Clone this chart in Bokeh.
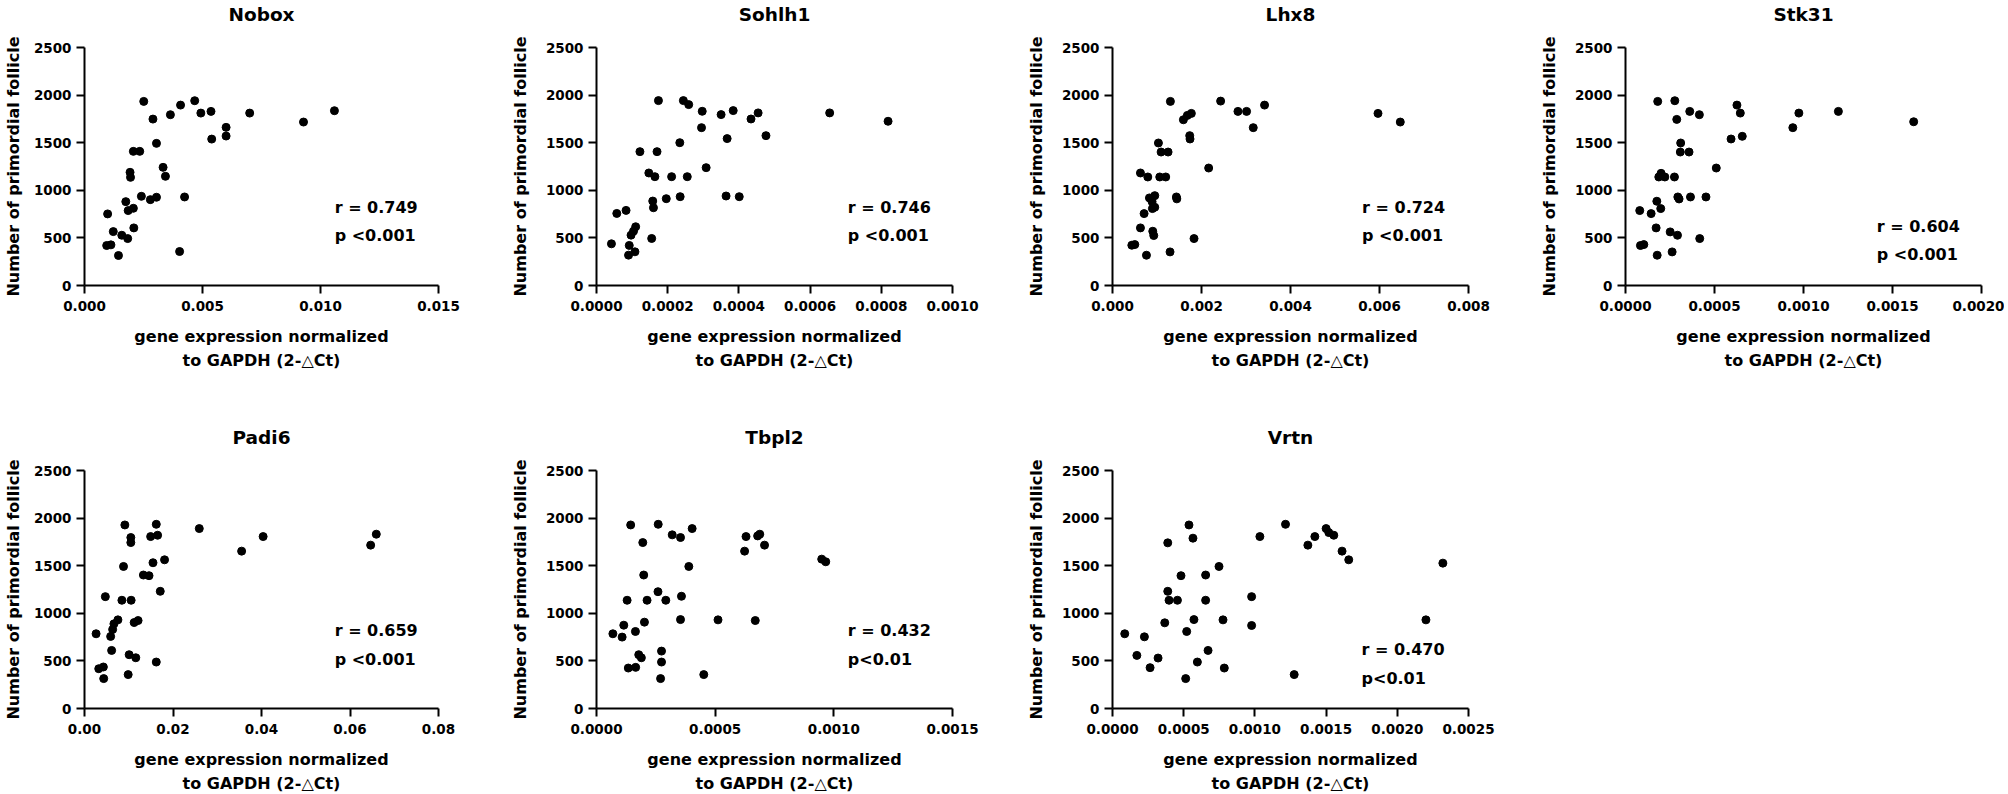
from bokeh.plotting import figure
from bokeh.layouts import column, row
from bokeh.models import Range1d, FixedTicker, Label
from bokeh.embed import file_html
from bokeh.resources import INLINE

# ---------------- data ----------------
genes = ["Nobox", "Sohlh1", "Lhx8", "Stk31", "Padi6", "Tbpl2", "Vrtn"]

nobox_x = [0.00251, 0.00467, 0.00407, 0.00290, 0.00364, 0.00493, 0.00536, 0.00700, 0.00928, 0.01059,
           0.00600, 0.00600, 0.00539, 0.00305, 0.00207, 0.00234, 0.00333, 0.00343, 0.00193, 0.00195,
           0.00241, 0.00279, 0.00305, 0.00424, 0.00175, 0.00185, 0.00207, 0.00098, 0.00209, 0.00122,
           0.00158, 0.00183, 0.00094, 0.00112, 0.00144, 0.00403]
nobox_y = [1934, 1941, 1895, 1748, 1794, 1811, 1829, 1811, 1717, 1836,
           1661, 1570, 1538, 1493, 1409, 1409, 1241, 1147, 1189, 1136,
           937, 902, 927, 930, 881, 787, 811, 752, 605, 566,
           528, 493, 420, 427, 315, 357]

sohlh1_x = [0.000174, 0.000244, 0.000259, 0.000297, 0.000350, 0.000384, 0.000434, 0.000454, 0.000655, 0.000819,
            0.000295, 0.000367, 0.000476, 0.000234, 0.000122, 0.000170, 0.000308, 0.000147, 0.000164, 0.000211,
            0.000255, 0.000196, 0.000235, 0.000364, 0.000401, 0.000158, 0.000160, 0.000057, 0.000083, 0.000110,
            0.000104, 0.000097, 0.000155, 0.000042, 0.000092, 0.000090, 0.000108]
sohlh1_y = [1942, 1942, 1900, 1830, 1795, 1837, 1749, 1813, 1813, 1725,
            1658, 1543, 1574, 1500, 1406, 1406, 1238, 1182, 1143, 1143,
            1143, 912, 933, 940, 933, 887, 817, 757, 789, 617,
            571, 529, 494, 438, 421, 319, 354]

lhx8_x = [0.001301, 0.00243, 0.002819, 0.003013, 0.003417, 0.005966, 0.006467, 0.003163, 0.001593, 0.001682,
          0.001772, 0.001735, 0.001742, 0.001032, 0.001092, 0.001249, 0.002161, 0.000628, 0.000793, 0.001062,
          0.001196, 0.00083, 0.00095, 0.00089, 0.001436, 0.001445, 0.000897, 0.00095, 0.00071, 0.000628,
          0.000905, 0.000927, 0.001832, 0.000434, 0.000501, 0.000763, 0.001293]
lhx8_y = [1934, 1937, 1829, 1829, 1895, 1808, 1717, 1658, 1741, 1787,
          1808, 1574, 1539, 1497, 1402, 1402, 1234, 1182, 1140, 1140,
          1140, 920, 944, 880, 930, 910, 808, 822, 755, 605,
          570, 525, 493, 423, 430, 318, 353]

stk31_x = [0.000181, 0.000277, 0.000361, 0.000415, 0.000288, 0.000626, 0.000645, 0.000974, 0.001196, 0.001619,
           0.000940, 0.000593, 0.000656, 0.000310, 0.000308, 0.000357, 0.000510, 0.000200, 0.000187, 0.000221,
           0.000275, 0.000294, 0.000301, 0.000365, 0.000452, 0.000176, 0.000198, 0.000080, 0.000144, 0.000172,
           0.000251, 0.000292, 0.000417, 0.000084, 0.000103, 0.000178, 0.000262]
stk31_y = [1934, 1941, 1829, 1794, 1745, 1895, 1811, 1811, 1829, 1720,
           1658, 1539, 1567, 1497, 1402, 1402, 1234, 1178, 1140, 1140,
           1140, 930, 909, 930, 930, 885, 808, 787, 755, 605,
           563, 528, 493, 420, 430, 318, 353]

padi6_x = [0.00912, 0.01622, 0.02594, 0.01495, 0.01652, 0.01047, 0.01047, 0.04037, 0.03551, 0.06467,
           0.06594, 0.01548, 0.01809, 0.00882, 0.01331, 0.01458, 0.01712, 0.00471, 0.00845, 0.01054,
           0.00755, 0.00665, 0.00636, 0.00591, 0.01122, 0.01211, 0.00262, 0.00613, 0.01009, 0.01159,
           0.01622, 0.00322, 0.00426, 0.00434, 0.00987]
padi6_y = [1928, 1935, 1890, 1806, 1820, 1796, 1743, 1806, 1653, 1716,
           1831, 1531, 1562, 1492, 1402, 1395, 1231, 1175, 1137, 1137,
           931, 889, 830, 757, 903, 924, 785, 610, 565, 533,
           488, 418, 436, 314, 356]

tbpl2_x = [0.000144, 0.000260, 0.000403, 0.000319, 0.000354, 0.000195, 0.000630, 0.000679, 0.000688, 0.000708,
           0.000624, 0.000949, 0.000966, 0.000389, 0.000199, 0.000259, 0.000358, 0.000129, 0.000213, 0.000292,
           0.000354, 0.000512, 0.000669, 0.000202, 0.000115, 0.000069, 0.000108, 0.000164, 0.000178, 0.000189,
           0.000274, 0.000274, 0.000134, 0.000165, 0.000270, 0.000452]
tbpl2_y = [1928, 1935, 1890, 1824, 1796, 1743, 1806, 1813, 1831, 1716,
           1653, 1569, 1541, 1492, 1402, 1227, 1179, 1137, 1137, 1137,
           934, 931, 924, 907, 875, 785, 750, 809, 565, 533,
           603, 488, 425, 432, 314, 356]

vrtn_x = [0.000537, 0.001215, 0.000565, 0.000388, 0.001035, 0.001372, 0.001421, 0.001500, 0.001519, 0.001554,
          0.001612, 0.001659, 0.002320, 0.000748, 0.000481, 0.000654, 0.000388, 0.000397, 0.000456, 0.000654,
          0.000977, 0.002201, 0.000367, 0.000572, 0.000776, 0.000977, 0.000521, 0.000086, 0.000224, 0.000671,
          0.000171, 0.000320, 0.000596, 0.000264, 0.000785, 0.000514, 0.001276]
vrtn_y = [1928, 1935, 1789, 1740, 1806, 1716, 1806, 1890, 1848, 1820,
          1653, 1562, 1527, 1492, 1395, 1402, 1231, 1137, 1137, 1137,
          1175, 931, 900, 934, 931, 872, 809, 785, 753, 610,
          558, 530, 488, 429, 425, 314, 356]

r_texts = ["r = 0.749", "r = 0.746", "r = 0.724", "r = 0.604", "r = 0.659", "r = 0.432", "r = 0.470"]
p_texts = ["p <0.001", "p <0.001", "p <0.001", "p <0.001", "p <0.001", "p<0.01", "p<0.01"]

x_max = [0.015, 0.001, 0.008, 0.002, 0.08, 0.0015, 0.0025]
x_ticks = [
    [0.0, 0.005, 0.01, 0.015],
    [0.0, 0.0002, 0.0004, 0.0006, 0.0008, 0.001],
    [0.0, 0.002, 0.004, 0.006, 0.008],
    [0.0, 0.0005, 0.001, 0.0015, 0.002],
    [0.0, 0.02, 0.04, 0.06, 0.08],
    [0.0, 0.0005, 0.001, 0.0015],
    [0.0, 0.0005, 0.001, 0.0015, 0.002, 0.0025],
]
x_tick_labels = [
    ["0.000", "0.005", "0.010", "0.015"],
    ["0.0000", "0.0002", "0.0004", "0.0006", "0.0008", "0.0010"],
    ["0.000", "0.002", "0.004", "0.006", "0.008"],
    ["0.0000", "0.0005", "0.0010", "0.0015", "0.0020"],
    ["0.00", "0.02", "0.04", "0.06", "0.08"],
    ["0.0000", "0.0005", "0.0010", "0.0015"],
    ["0.0000", "0.0005", "0.0010", "0.0015", "0.0020", "0.0025"],
]
y_ticks = [0, 500, 1000, 1500, 2000, 2500]
y_tick_labels = ["0", "500", "1000", "1500", "2000", "2500"]

xs = [nobox_x, sohlh1_x, lhx8_x, stk31_x, padi6_x, tbpl2_x, vrtn_x]
ys = [nobox_y, sohlh1_y, lhx8_y, stk31_y, padi6_y, tbpl2_y, vrtn_y]

# ---------------- layout / style ----------------
# annotation anchor (fraction of x range, y data value for r and p lines)
ann = [
    (0.7067, 822, 525), (0.7059, 822, 525), (0.7011, 822, 525), (0.7059, 623, 326),
    (0.7067, 816, 518), (0.7059, 816, 518), (0.6995, 617, 318),
]
col_w = [507, 516, 513, 468]
col_l = [81, 88, 88, 88]
row_h = [396, 402]
row_t = [47, 74]
FRAME_W, FRAME_H = 357, 238
Y_MAX = 2500

FONT = "DejaVu Sans"


def make_panel(i):
    c = i % 4
    r = i // 4
    w, L = col_w[c], col_l[c]
    h, T = row_h[r], row_t[r]
    p = figure(width=w, height=h, output_backend="svg", toolbar_location=None,
               x_range=Range1d(0, x_max[i]), y_range=Range1d(0, Y_MAX),
               min_border_left=L, min_border_right=w - L - FRAME_W,
               min_border_top=T, min_border_bottom=h - T - FRAME_H)
    p.outline_line_color = None
    p.background_fill_color = "white"
    p.border_fill_color = "white"
    p.xgrid.visible = False
    p.ygrid.visible = False

    # title: a blank second line lifts the name further above the frame
    p.title.text = genes[i] + "\n\u00a0"
    p.title.align = "center"
    p.title.text_font = FONT
    p.title.text_font_style = "bold"
    p.title.text_font_size = "18.5px"
    p.title.text_color = "black"
    p.title.text_line_height = 1.09
    p.title.standoff = 0

    for ax in (p.xaxis[0], p.yaxis[0]):
        ax.axis_line_width = 2
        ax.axis_line_color = "black"
        ax.major_tick_line_width = 2
        ax.major_tick_line_color = "black"
        ax.major_tick_out = 8
        ax.major_tick_in = 0
        ax.minor_tick_line_color = None
        ax.major_label_text_font = FONT
        ax.major_label_text_font_style = "bold"
        ax.major_label_text_font_size = "13.5px"
        ax.major_label_text_color = "black"
        ax.axis_label_text_font = FONT
        ax.axis_label_text_font_style = "bold"
        ax.axis_label_text_font_size = "16px"
        ax.axis_label_text_color = "black"

    xa = p.xaxis[0]
    xa.ticker = FixedTicker(ticks=x_ticks[i])
    xa.major_label_overrides = {t: s for t, s in zip(x_ticks[i], x_tick_labels[i])}
    xa.major_label_standoff = 7
    xa.axis_label = "gene expression normalized\nto GAPDH (2-\u25B3Ct)"
    xa.axis_label_standoff = 13
    xa.axis_label_text_line_height = 1.3

    ya = p.yaxis[0]
    ya.ticker = FixedTicker(ticks=y_ticks)
    ya.major_label_overrides = {t: s for t, s in zip(y_ticks, y_tick_labels)}
    ya.major_label_standoff = 5
    ya.axis_label = "Number of primordial follicle"
    ya.axis_label_standoff = 8 if c == 0 else 13

    p.scatter(xs[i], ys[i], size=8, color="black", marker="circle")

    fx, ry, py = ann[i]
    for txt, yy in ((r_texts[i], ry), (p_texts[i], py)):
        p.add_layout(Label(x=fx * x_max[i], y=yy, text=txt, text_font=FONT,
                           text_font_style="bold", text_font_size="16px",
                           text_color="black", text_align="left", text_baseline="middle"))
    return p


panels = [make_panel(i) for i in range(7)]

try:
    from bokeh.models import GlobalInlineStyleSheet
    page_css = GlobalInlineStyleSheet(css="html, body { margin: 0; padding: 0; overflow: hidden; }")
    layout = column(row(*panels[:4]), row(*panels[4:]), stylesheets=[page_css])
except Exception:
    layout = column(row(*panels[:4]), row(*panels[4:]), margin=(-4, 0, -8, -4))

open("out.html", "w").write(file_html(layout, INLINE))
